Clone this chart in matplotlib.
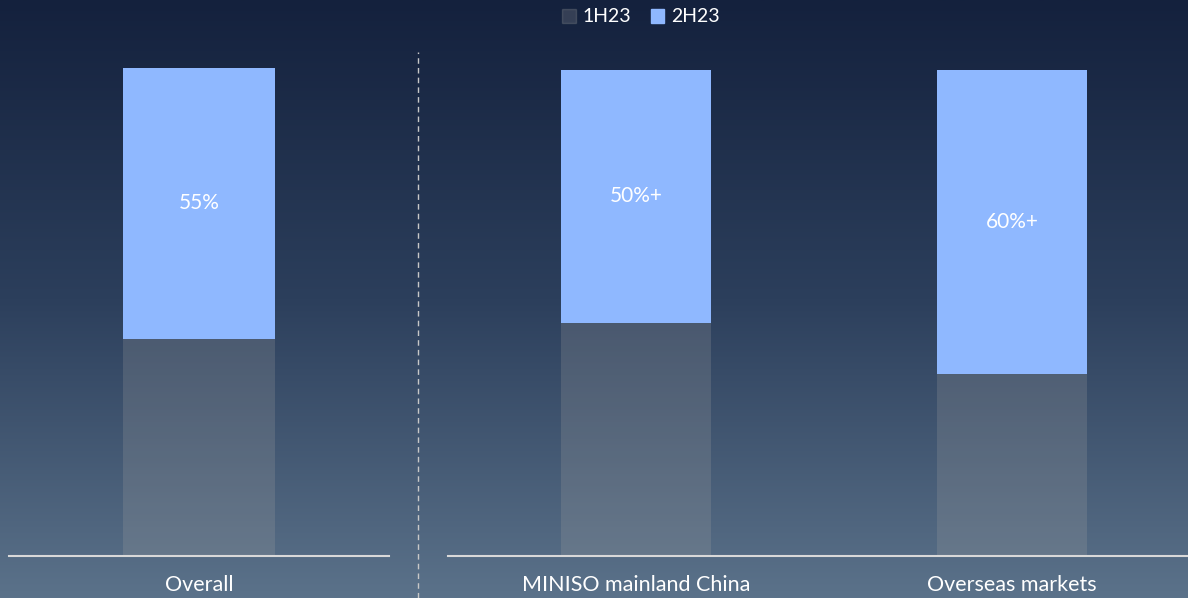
import numpy as np
import matplotlib
matplotlib.use("Agg")
from matplotlib import pyplot as plt
from matplotlib.colors import LinearSegmentedColormap
from matplotlib.patches import Patch
from matplotlib.lines import Line2D

plt.rcParams['font.family'] = ['Lato', 'DejaVu Sans']

# data: share of sales by half-year (%)
left_categories = ["Overall"]
left_1h23 = [44.5]
left_2h23 = [55.5]
left_labels = ["55%"]

right_categories = ["MINISO mainland China", "Overseas markets"]
right_1h23 = [48, 37.5]
right_2h23 = [52, 62.5]
right_labels = ["50%+", "60%+"]

series_names = ["1H23", "2H23"]

W, H = 1188, 598
fig = plt.figure(figsize=(W / 100, H / 100), dpi=100)

# gradient background
bg = fig.add_axes([0, 0, 1, 1], zorder=-10)
cmap = LinearSegmentedColormap.from_list(
    "bg", [(0, "#14213d"), (0.5, "#2c3f5c"), (1, "#5b728a")])
bg.imshow(np.linspace(0, 1, 256).reshape(-1, 1), aspect="auto", cmap=cmap,
          extent=[0, 1, 0, 1], origin="upper")
bg.axis("off")

c1 = (0.64, 0.64, 0.64, 0.23)
c2 = "#8fb8ff"


def draw(ax, cats, v1, v2, labels):
    x = np.arange(len(cats))
    ax.bar(x, v1, width=0.4, color=c1)
    ax.bar(x, v2, bottom=v1, width=0.4, color=c2)
    for xi, a, b, lab in zip(x, v1, v2, labels):
        ax.text(xi, a + b / 2, lab, ha="center", va="center",
                color="white", fontsize=15)
    ax.set_xlim(-0.5, len(cats) - 0.5)
    ax.set_ylim(0, 100)
    ax.set_xticks(x, cats)
    ax.tick_params(axis="x", length=0, pad=14, labelsize=15.5, colors="white")
    ax.set_yticks([])
    ax.patch.set_alpha(0)
    for s in ["top", "left", "right"]:
        ax.spines[s].set_visible(False)
    ax.spines["bottom"].set_color("#d9d9d9")
    ax.spines["bottom"].set_linewidth(1.5)


axl = fig.add_axes([9 / W, 42 / H, 380 / W, 488 / H])
draw(axl, left_categories, left_1h23, left_2h23, left_labels)

axr = fig.add_axes([448 / W, 42 / H, 752 / W, 486 / H])
draw(axr, right_categories, right_1h23, right_2h23, right_labels)

# divider
fig.add_artist(Line2D([418 / W, 418 / W], [0, 1 - 52 / H], color="#c8c8c8",
                      lw=1, ls=(0, (4, 3))))

handles = [Patch(color=c1), Patch(color=c2)]
fig.legend(handles, series_names, loc="center", bbox_to_anchor=(641 / W, 1 - 17 / H),
           ncol=2, frameon=False, fontsize=14, labelcolor="white",
           handlelength=0.7, handleheight=0.7, handletextpad=0.35, columnspacing=1.0)

fig.savefig("out.png", dpi=100)
